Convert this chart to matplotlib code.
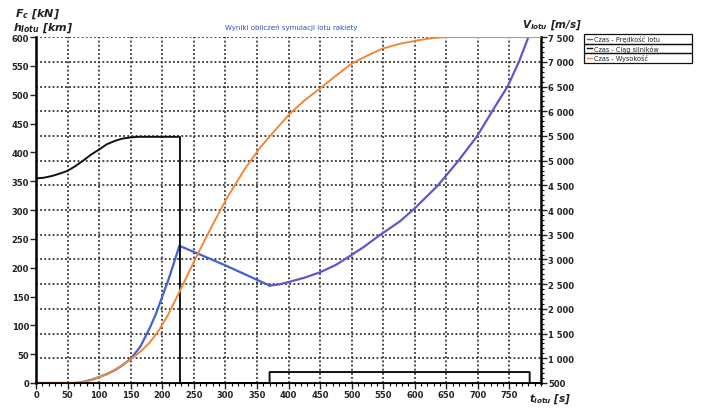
import matplotlib.pyplot as plt
from matplotlib.lines import Line2D
from matplotlib.patches import Rectangle
from matplotlib.ticker import FuncFormatter, MultipleLocator, FixedLocator

plt.rcParams['mathtext.fontset'] = 'custom'
plt.rcParams['mathtext.it'] = 'DejaVu Sans:bold:italic'
plt.rcParams['mathtext.rm'] = 'DejaVu Sans:bold:italic'

###================ Data ====================================###

# Ciag silnikow [kN] (left axis)
t_thrust = [0, 12, 25, 37, 50, 62, 75, 87, 100, 112, 125, 137, 150, 162, 200,
            228, 228, 370, 370, 782, 782, 800]
thrust = [355, 356, 359, 363, 368, 376, 386, 396, 405, 414, 420, 424, 426, 427,
          427, 427, 0, 0, 19, 19, 0, 0]

# Wysokosc [km] (left axis)
t_alt = [0, 60, 70, 80, 90, 100, 112, 125, 137, 150, 165, 180, 195, 210, 228,
         255, 280, 302, 330, 354, 380, 402, 425, 449, 475, 500, 525, 549, 575,
         603, 625, 650, 800]
altitude = [0, 0, 1, 3, 6, 10, 15, 23, 31, 41, 54, 70, 92, 120, 160,
            221, 275, 320, 370, 407, 440, 467, 490, 510, 533, 554, 568, 580, 588,
            594, 598, 600, 600]

# Predkosc lotu [m/s] (right axis)
t_vel = [0, 60, 70, 80, 90, 100, 112, 125, 137, 150, 165, 180, 190, 200, 210,
         220, 227, 300, 370, 385, 400, 425, 450, 475, 497, 520, 544, 576, 600,
         636, 668, 698, 726, 747, 765, 780]
velocity = [500, 500, 510, 540, 575, 620, 680, 760, 860, 990, 1230, 1608, 1900,
            2250, 2600, 2990, 3277, 2880, 2472, 2495, 2542, 2630, 2740, 2890,
            3067, 3260, 3487, 3767, 4035, 4490, 4980, 5482, 6070, 6500, 7000,
            7500]

legend_labels = ["Czas - Prędkość lotu", "Czas - Ciąg silników", "Czas - Wysokość"]
legend_colors = ["#5f58c8", "#111111", "#f0883a"]

title = "Wyniki obliczeń symulacji lotu rakiety"

###================ Plot =================###

fig = plt.figure(figsize=(7.01, 4.14), dpi=100, facecolor='white')
ax = fig.add_axes([0.0514, 0.0725, 0.7204, 0.8355])
ax2 = ax.twinx()

# right axis in the background: grid + velocity
ax.set_zorder(ax2.get_zorder() + 1)
ax.patch.set_visible(False)

ax.set_xlim(0, 800)
ax.set_ylim(0, 600)
ax2.set_ylim(500, 7500)

grid_style = dict(color='#333333', linestyle=(0, (1, 1.3)), linewidth=1.3)
ax2.yaxis.set_major_locator(MultipleLocator(500))
ax2.yaxis.set_minor_locator(MultipleLocator(100))
ax2.grid(axis='y', **grid_style)
ax.xaxis.set_major_locator(FixedLocator(range(0, 800, 50)))
ax.xaxis.set_minor_locator(MultipleLocator(10))
for xv in range(50, 800, 50):
    ax2.axvline(xv, zorder=1, **grid_style)

split = t_vel.index(370) + 1
ax2.plot(t_vel[:split], velocity[:split], color='#4560d0', lw=1.6, zorder=3)
ax2.plot(t_vel[split - 1:], velocity[split - 1:], color=legend_colors[0], lw=1.6, zorder=3)
ax.plot(t_thrust, thrust, color=legend_colors[1], lw=1.4)
ax.plot(t_alt, altitude, color=legend_colors[2], lw=1.4)

ax.yaxis.set_major_locator(MultipleLocator(50))
ax2.yaxis.set_major_formatter(FuncFormatter(lambda v, p: f"{int(v):,}".replace(",", " ")))

for a in (ax, ax2):
    a.spines['top'].set_visible(False)
    a.tick_params(labelsize=6, width=1, length=4, colors='#222222', pad=1)
    a.tick_params(which='minor', length=2, width=0.8)
ax.spines['left'].set_linewidth(1.8)
ax.spines['bottom'].set_linewidth(1.2)
ax2.spines['right'].set_linewidth(1.8)
ax.spines['right'].set_visible(False)
ax2.spines['left'].set_visible(False)
for lbl in ax.get_xticklabels() + ax.get_yticklabels() + ax2.get_yticklabels():
    lbl.set_fontweight('bold')

# axis captions
fig.text(0.021, 0.965, r"$F_c\ [kN]$", fontsize=8, color='#222222', va='center')
fig.text(0.018, 0.932, r"$h_{lotu}\ [km]$", fontsize=8, color='#222222', va='center')
fig.text(0.745, 0.940, r"$V_{lotu}\ [m/s]$", fontsize=7.5, color='#222222', va='center')
fig.text(0.755, 0.036, r"$t_{lotu}\ [s]$", fontsize=7.5, color='#222222', va='center')
fig.text(0.415, 0.932, title, fontsize=5, color='#3050c0', ha='center', va='center')

# legend: three boxed rows
row_h = 0.023
x0, w = 0.833, 0.154
for i, (lab, col) in enumerate(zip(legend_labels, legend_colors)):
    y = 0.915 - (i + 1) * row_h
    fig.add_artist(Rectangle((x0, y), w, row_h, transform=fig.transFigure,
                             fill=False, lw=0.9, ec='#111111'))
    fig.add_artist(Line2D([x0 + 0.004, x0 + 0.012], [y + row_h / 2] * 2,
                          transform=fig.transFigure, color=col, lw=1))
    fig.text(x0 + 0.015, y + row_h / 2, lab, fontsize=4.7, va='center', color='#222222')

fig.savefig('out.png', dpi=100)
